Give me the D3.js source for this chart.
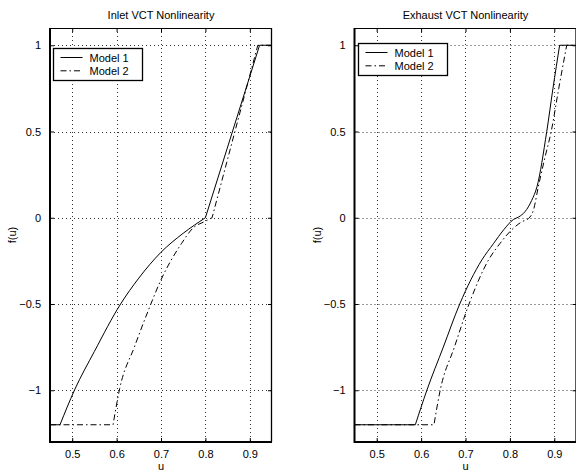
<!DOCTYPE html>
<html><head><meta charset="utf-8">
<script src="https://cdn.jsdelivr.net/npm/d3@7"></script>
<style>body{margin:0;background:#fff}svg{display:block}text{font-family:"Liberation Sans",Arial,sans-serif;fill:#000}</style>
</head><body><svg id="c" width="576" height="470"></svg>
<script>
const titles = ["Inlet VCT Nonlinearity", "Exhaust VCT Nonlinearity"];
const seriesNames = ["Model 1", "Model 2"];
const xTicks = [0.5, 0.6, 0.7, 0.8, 0.9];
const yTicks = [-1, -0.5, 0, 0.5, 1];
const xDomain = [0.45, 0.95];
const yDomain = [-1.3, 1.1];

const inletU1 = [0.45, 0.4725, 0.505, 0.55, 0.609, 0.65, 0.7, 0.75, 0.8, 0.922, 0.95];
const inletF1 = [-1.2, -1.2, -1.0, -0.775, -0.5, -0.35, -0.2, -0.09, 0.0, 1.0, 1.0];
const inletU2 = [0.45, 0.592, 0.607, 0.64, 0.671, 0.7, 0.746, 0.772, 0.8, 0.815, 0.918, 0.95];
const inletF2 = [-1.2, -1.2, -0.99, -0.75, -0.54, -0.36, -0.15, -0.06, -0.02, 0.0, 1.0, 1.0];

const exhU1 = [0.45, 0.587, 0.613, 0.65, 0.687, 0.737, 0.763, 0.786, 0.808, 0.82, 0.834, 0.849, 0.861, 0.883, 0.897, 0.912, 0.95];
const exhF1 = [-1.2, -1.2, -1.0, -0.75, -0.5, -0.244, -0.15, -0.07, -0.01, 0.005, 0.035, 0.1, 0.18, 0.5, 0.75, 1.0, 1.0];
const exhU2 = [0.45, 0.629, 0.643, 0.675, 0.708, 0.752, 0.778, 0.804, 0.827, 0.842, 0.853, 0.864, 0.879, 0.893, 0.91, 0.928, 0.95];
const exhF2 = [-1.2, -1.2, -1.0, -0.75, -0.5, -0.244, -0.148, -0.07, -0.023, -0.004, 0.044, 0.18, 0.35, 0.5, 0.75, 1.0, 1.0];

// indices where each series has a sharp corner
const inletCorners1 = [1, 8, 9];
const inletCorners2 = [1, 9, 10];
const exhCorners1 = [1, 15];
const exhCorners2 = [1, 15];

const panels = [
  {title: titles[0], left: 50, right: 272, series: [[inletU1, inletF1, inletCorners1], [inletU2, inletF2, inletCorners2]], legend: {x: 53.5, y: 48.5}},
  {title: titles[1], left: 354.5, right: 576.5, series: [[exhU1, exhF1, exhCorners1], [exhU2, exhF2, exhCorners2]], legend: {x: 358.5, y: 43.5}}
];
const plotTop = 28, plotBottom = 442;
const dashes = [null, "6,3,1.5,3"];
const svg = d3.select("#c");
const fmt = v => (v < 0 ? "\u2212" : "") + String(Math.abs(v));

panels.forEach((p, i) => {
  const x = d3.scaleLinear().domain(xDomain).range([p.left, p.right]);
  const y = d3.scaleLinear().domain(yDomain).range([plotBottom, plotTop]);
  const g = svg.append("g");
  const cid = "clip" + i;
  g.append("clipPath").attr("id", cid).append("rect")
    .attr("x", p.left).attr("y", plotTop).attr("width", p.right - p.left).attr("height", plotBottom - plotTop);
  // grid
  g.append("g").selectAll("line").data(xTicks).join("line")
    .attr("x1", d => Math.round(x(d)) + 0.5).attr("x2", d => Math.round(x(d)) + 0.5)
    .attr("y1", plotTop).attr("y2", plotBottom)
    .attr("stroke", "#000").attr("stroke-width", 0.8).attr("stroke-dasharray", "1,3");
  g.append("g").selectAll("line").data(yTicks).join("line")
    .attr("y1", d => Math.round(y(d)) + 0.5).attr("y2", d => Math.round(y(d)) + 0.5)
    .attr("x1", p.left).attr("x2", p.right)
    .attr("stroke", "#000").attr("stroke-width", 0.8).attr("stroke-dasharray", "1,3");
  // axes with inward ticks
  const ax = g.append("g").attr("transform", `translate(0,${plotBottom})`)
    .call(d3.axisBottom(x).tickValues(xTicks).tickSizeInner(-4).tickSizeOuter(0).tickPadding(8).tickFormat(d => String(d)));
  const axT = g.append("g").attr("transform", `translate(0,${plotTop})`)
    .call(d3.axisTop(x).tickValues(xTicks).tickSizeInner(-4).tickSizeOuter(0).tickFormat(""));
  const ay = g.append("g").attr("transform", `translate(${p.left},0)`)
    .call(d3.axisLeft(y).tickValues(yTicks).tickSizeInner(-4).tickSizeOuter(0).tickPadding(9).tickFormat(fmt));
  const ayR = g.append("g").attr("transform", `translate(${p.right},0)`)
    .call(d3.axisRight(y).tickValues(yTicks).tickSizeInner(-4).tickSizeOuter(0).tickFormat(""));
  [ax, axT, ay, ayR].forEach(a => {
    a.select(".domain").remove();
    a.selectAll("text").style("font-size", "11px").attr("font-family", null);
  });
  // box
  g.append("line").attr("x1", p.left).attr("x2", p.right).attr("y1", plotTop + 0.5).attr("y2", plotTop + 0.5).attr("stroke", "#000").attr("stroke-width", 1);
  g.append("line").attr("x1", p.right - 0.5).attr("x2", p.right - 0.5).attr("y1", plotTop).attr("y2", plotBottom).attr("stroke", "#000").attr("stroke-width", 1.3);
  g.append("line").attr("x1", p.left).attr("x2", p.right).attr("y1", plotBottom).attr("y2", plotBottom).attr("stroke", "#000").attr("stroke-width", 2);
  g.append("line").attr("x1", p.left).attr("x2", p.left).attr("y1", plotTop).attr("y2", plotBottom + 1).attr("stroke", "#000").attr("stroke-width", 2);
  // series: smooth between corner points, sharp at corners
  const line = d3.line().x(d => x(d[0])).y(d => y(d[1])).curve(d3.curveMonotoneX);
  p.series.forEach((s, k) => {
    const pts = s[0].map((u, j) => [u, s[1][j]]);
    const cuts = [0, ...s[2], pts.length - 1];
    let d = "";
    for (let c = 0; c < cuts.length - 1; c++) {
      const seg = line(pts.slice(cuts[c], cuts[c + 1] + 1));
      d += c === 0 ? seg : seg.replace(/^M[^A-Za-z]*/, "L" + seg.match(/^M([^A-Za-z]*)/)[1]);
    }
    g.append("path").attr("d", d).attr("clip-path", `url(#${cid})`)
      .attr("fill", "none").attr("stroke", "#000").attr("stroke-width", 1)
      .attr("stroke-linejoin", "miter").attr("stroke-dasharray", dashes[k]);
  });
  // title and labels
  const cx = (p.left + p.right) / 2;
  g.append("text").attr("x", cx).attr("y", 19).attr("text-anchor", "middle").style("font-size", "11px").text(p.title);
  g.append("text").attr("x", cx).attr("y", 469.5).attr("text-anchor", "middle").style("font-size", "11px").text("u");
  g.append("text").attr("transform", `translate(${p.left - 34},${(plotTop + plotBottom) / 2}) rotate(-90)`)
    .attr("text-anchor", "middle").style("font-size", "11px").text("f(u)");
  // legend
  const L = p.legend;
  const lg = g.append("g").attr("transform", `translate(${L.x},${L.y})`);
  lg.append("rect").attr("width", 89).attr("height", 32).attr("fill", "#fff").attr("stroke", "#000").attr("stroke-width", 1.3);
  seriesNames.forEach((n, k) => {
    const yy = 9 + k * 13.3;
    lg.append("line").attr("x1", 7).attr("x2", 29).attr("y1", yy).attr("y2", yy)
      .attr("stroke", "#000").attr("stroke-width", 1).attr("stroke-dasharray", dashes[k]);
    lg.append("text").attr("x", 36).attr("y", yy + 4).style("font-size", "11px").text(n);
  });
});
</script></body></html>
